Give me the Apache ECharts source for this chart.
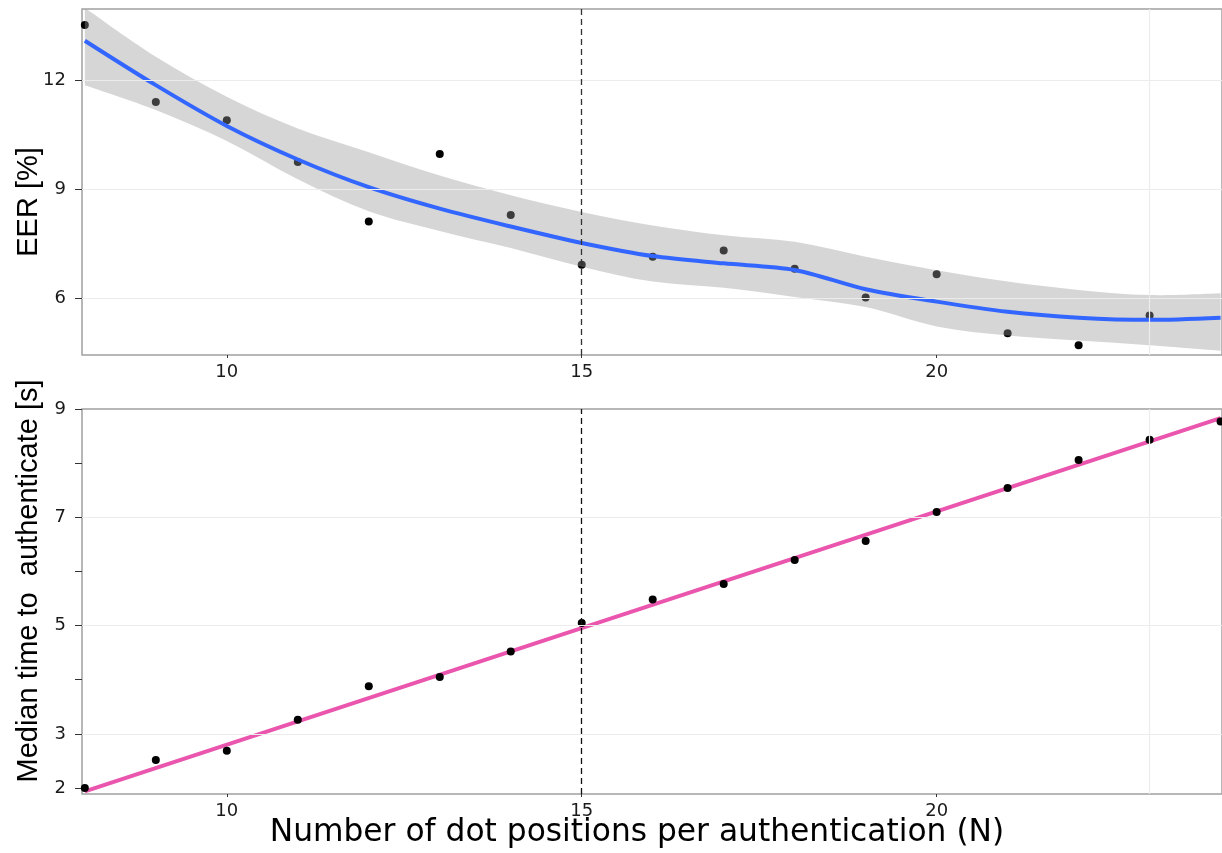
<!DOCTYPE html>
<html>
<head>
<meta charset="utf-8">
<script src="https://cdn.jsdelivr.net/npm/echarts@6/dist/echarts.min.js"></script>
<style>
    html, body { margin: 0; padding: 0; background: #ffffff; }
    #chart { width: 1222px; height: 853px; }
</style>
</head>
<body>
<div id="chart"></div>
<script>
// ---- DATA
var nVals = [8, 9, 10, 11, 12, 13, 14, 15, 16, 17, 18, 19, 20, 21, 22, 23, 24];

// top panel : EER [%]
var eerN = [8, 9, 10, 11, 12, 13, 14, 15, 16, 17, 18, 19, 20, 21, 22, 23];
var eerVals = [13.51, 11.40, 10.90, 9.75, 8.12, 9.97, 8.30, 6.93, 7.15, 7.32, 6.82, 6.03, 6.67, 5.05, 4.72, 5.54];
var eerFit = [13.08, 11.86, 10.74, 9.82, 9.06, 8.47, 7.98, 7.53, 7.17, 6.97, 6.79, 6.26, 5.92, 5.64, 5.48, 5.42, 5.48];
var eerLow = [11.86, 11.18, 10.33, 9.28, 8.40, 7.86, 7.39, 6.88, 6.47, 6.30, 6.05, 5.77, 5.24, 4.99, 4.85, 4.72, 4.57];
var eerHigh = [13.98, 12.64, 11.54, 10.67, 10.02, 9.38, 8.84, 8.38, 8.01, 7.74, 7.56, 7.15, 6.78, 6.47, 6.24, 6.10, 6.15];

// bottom panel : median time to authenticate [s]
var timeVals = [2.00, 2.52, 2.69, 3.26, 3.88, 4.05, 4.52, 5.05, 5.48, 5.77, 6.21, 6.56, 7.10, 7.54, 8.06, 8.43, 8.77];
var timeFitN = [8, 24];
var timeFitVals = [1.94, 8.83];

// ticks
var xTicks = [10, 15, 20];
var eerTicks = [6, 9, 12];
var timeTicks = [2, 3, 4, 5, 6, 7, 8, 9];
var timeLabels = [2, 3, 5, 7, 9];
var timeGrid = [3, 5, 7];
var refN = 15;
var faintN = 23;

function pairs(xs, ys) {
    return ys.map(function (y, i) { return [xs[i], y]; });
}

// catmull-rom -> bezier, returns ' C ...' segments (start point not included)
function curveSegs(pts) {
    var s = '';
    for (var i = 0; i < pts.length - 1; i++) {
        var p0 = pts[i - 1] || pts[i];
        var p1 = pts[i];
        var p2 = pts[i + 1];
        var p3 = pts[i + 2] || p2;
        var c1 = [p1[0] + (p2[0] - p0[0]) / 6, p1[1] + (p2[1] - p0[1]) / 6];
        var c2 = [p2[0] - (p3[0] - p1[0]) / 6, p2[1] - (p3[1] - p1[1]) / 6];
        s += ' C ' + c1[0] + ' ' + c1[1] + ' ' + c2[0] + ' ' + c2[1] + ' ' + p2[0] + ' ' + p2[1];
    }
    return s;
}

function renderBand(params, api) {
    var up = nVals.map(function (n, i) { return api.coord([n, eerHigh[i]]); });
    var lo = nVals.map(function (n, i) { return api.coord([n, eerLow[i]]); }).reverse();
    var d = 'M ' + up[0][0] + ' ' + up[0][1] + curveSegs(up) +
        ' L ' + lo[0][0] + ' ' + lo[0][1] + curveSegs(lo) + ' Z';
    var cs = params.coordSys;
    return {
        type: 'path',
        shape: { pathData: d },
        style: { fill: 'rgba(153,153,153,0.4)', stroke: null },
        clipPath: { type: 'rect', shape: { x: cs.x, y: cs.y, width: cs.width, height: cs.height } },
        silent: true
    };
}

var chart = echarts.init(document.getElementById('chart'));

var tickFont = { fontSize: 18, fontFamily: 'DejaVu Sans', color: '#1a1a1a' };

function xAxisFor(idx) {
    return {
        type: 'value',
        gridIndex: idx,
        min: 7.96,
        max: 24.02,
        axisLine: { show: false },
        axisTick: { show: true, customValues: xTicks, length: 3, lineStyle: { color: '#333', width: 1 } },
        axisLabel: Object.assign({ customValues: xTicks, margin: 8 }, tickFont),
        splitLine: { show: false }
    };
}

var gridLines = function (vals) {
    var d = vals.map(function (v) { return { yAxis: v }; });
    d.push({ xAxis: faintN });
    return {
        silent: true,
        symbol: ['none', 'none'],
        label: { show: false },
        lineStyle: { color: '#ececec', width: 1.2, type: 'solid' },
        data: d
    };
};

var dashLine = function (color) {
    return {
        silent: true,
        symbol: ['none', 'none'],
        label: { show: false },
        lineStyle: { color: color, width: 1.3, type: [6, 4] },
        data: [{ xAxis: refN }]
    };
};

var option = {
    animation: false,
    backgroundColor: '#ffffff',
    grid: [
        { left: 82, top: 9, right: -2, height: 346, show: true, borderColor: '#a0a0a0', borderWidth: 1.5 },
        { left: 82, top: 409, right: -2, height: 385, show: true, borderColor: '#a0a0a0', borderWidth: 1.5 }
    ],
    xAxis: [xAxisFor(0), xAxisFor(1)],
    yAxis: [
        {
            type: 'value',
            gridIndex: 0,
            min: 4.455,
            max: 13.95,
            axisLine: { show: false },
            axisTick: { show: true, customValues: eerTicks, length: 7, lineStyle: { color: '#333', width: 1 } },
            axisLabel: Object.assign({ customValues: eerTicks, margin: 16 }, tickFont),
            splitLine: { show: false }
        },
        {
            type: 'value',
            gridIndex: 1,
            min: 1.89,
            max: 9,
            axisLine: { show: false },
            axisTick: { show: true, customValues: timeTicks, length: 7, lineStyle: { color: '#333', width: 1 } },
            axisLabel: Object.assign({ customValues: timeLabels, margin: 16 }, tickFont),
            splitLine: { show: false }
        }
    ],
    graphic: [
        {
            type: 'text', x: 29, y: 202, rotation: Math.PI / 2,
            style: { text: 'EER [%]', fontSize: 29, fontFamily: 'Liberation Sans', fill: '#000', align: 'center', verticalAlign: 'middle' }
        },
        {
            type: 'text', x: 29, y: 581, rotation: Math.PI / 2,
            style: { text: 'Median time to  authenticate [s]', fontSize: 29, fontFamily: 'Liberation Sans', fill: '#000', align: 'center', verticalAlign: 'middle' }
        },
        {
            type: 'text', x: 637, y: 833,
            style: { text: 'Number of dot positions per authentication (N)', fontSize: 31.3, fontFamily: 'DejaVu Sans', fill: '#000', align: 'center', verticalAlign: 'middle' }
        }
    ],
    series: [
        // --- top panel
        {
            name: 'grid-top', type: 'line', xAxisIndex: 0, yAxisIndex: 0, z: 1,
            data: [], markLine: gridLines(eerTicks)
        },
        {
            name: 'EER', type: 'scatter', xAxisIndex: 0, yAxisIndex: 0, z: 2,
            symbolSize: 8, itemStyle: { color: '#000', opacity: 1 },
            data: pairs(eerN, eerVals)
        },
        {
            name: 'band', type: 'custom', xAxisIndex: 0, yAxisIndex: 0, z: 3,
            renderItem: renderBand,
            data: [[nVals[0], eerLow[0]]]
        },
        {
            name: 'EER fit', type: 'line', xAxisIndex: 0, yAxisIndex: 0, z: 4,
            smooth: 0.3, symbol: 'none',
            lineStyle: { color: '#3366ff', width: 4 },
            data: pairs(nVals, eerFit),
            markLine: dashLine('#333333')
        },
        // --- bottom panel
        {
            name: 'grid-bottom', type: 'line', xAxisIndex: 1, yAxisIndex: 1, z: 1,
            data: [], markLine: gridLines(timeGrid)
        },
        {
            name: 'time fit', type: 'line', xAxisIndex: 1, yAxisIndex: 1, z: 2,
            symbol: 'none',
            lineStyle: { color: '#ea56ad', width: 4 },
            data: pairs(timeFitN, timeFitVals),
            markLine: dashLine('#111111')
        },
        {
            name: 'time', type: 'scatter', xAxisIndex: 1, yAxisIndex: 1, z: 3,
            symbolSize: 8, itemStyle: { color: '#000', opacity: 1 },
            data: pairs(nVals, timeVals)
        }
    ]
};

chart.setOption(option);
</script>
</body>
</html>
